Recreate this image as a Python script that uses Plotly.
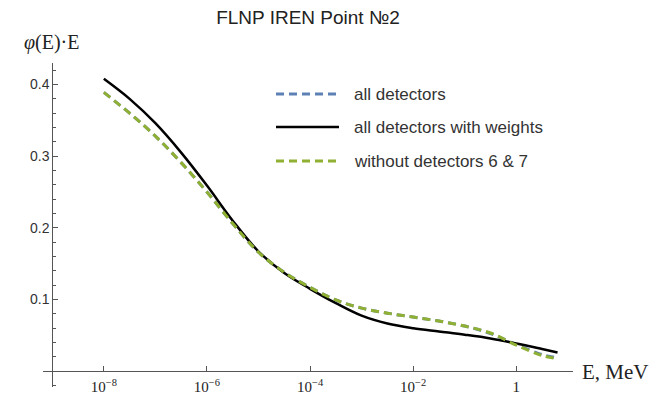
import plotly.graph_objects as go

# log10 of energy (MeV) and phi(E)*E for the three unfoldings
log_e = [-8, -7.5, -7, -6.5, -6, -5.5, -5, -4.5, -4, -3.5, -3, -2.5, -2, -1.5, -1, -0.5, 0, 0.5, 0.8]
all_det = [0.389, 0.360, 0.328, 0.291, 0.250, 0.206, 0.166, 0.138, 0.117, 0.0995,
           0.088, 0.081, 0.0756, 0.070, 0.063, 0.0525, 0.0372, 0.0232, 0.0186]
weights = [0.408, 0.380, 0.346, 0.305, 0.259, 0.210, 0.167, 0.137, 0.115, 0.095,
           0.0775, 0.0665, 0.060, 0.0555, 0.051, 0.0458, 0.0388, 0.031, 0.0262]
no_67 = [0.389, 0.360, 0.328, 0.291, 0.250, 0.206, 0.166, 0.138, 0.117, 0.0995,
         0.088, 0.081, 0.0756, 0.070, 0.063, 0.0533, 0.0365, 0.022, 0.0174]

energy = [10 ** v for v in log_e]

x_ticks = [1e-8, 1e-6, 1e-4, 1e-2, 1]
x_labels = ["10<sup>−8</sup>", "10<sup>−6</sup>", "10<sup>−4</sup>", "10<sup>−2</sup>", "1"]
y_ticks = [0.1, 0.2, 0.3, 0.4]

names = ["all detectors", "all detectors with weights", "without detectors 6 & 7"]
colors = ["#5e81b5", "black", "#8fb032"]

# the page body has an 8px margin, so the figure is drawn 8px in from the top-left
OFF = 8
W, H = 667 - OFF, 397 - OFF
L, R, T, B = 43, 573, 63, 387  # plot area in window pixels
X_RANGE = [-9.18, 1.1]
Y_RANGE = [-0.022, 0.43]
SERIF = "Liberation Serif, Times New Roman, serif"
SANS = "Liberation Sans, Arial, sans-serif"


def px(x):
    return (x - L) / (R - L)


def py(y):
    return (B - y) / (B - T)


fig = go.Figure()
fig.add_trace(go.Scatter(x=energy, y=all_det, mode="lines", line_shape="spline",
                         line=dict(color=colors[0], width=3, dash="8px,5px"), showlegend=False))
fig.add_trace(go.Scatter(x=energy, y=weights, mode="lines", line_shape="spline",
                         line=dict(color=colors[1], width=2.5), showlegend=False))
fig.add_trace(go.Scatter(x=energy, y=no_67, mode="lines", line_shape="spline",
                         line=dict(color=colors[2], width=3, dash="8px,5px"), showlegend=False))

# hand made legend
rows = [94, 127, 161]
for name, col, yy, dash in zip(names, colors, rows, ["8px,5px", "solid", "8px,5px"]):
    fig.add_shape(type="line", xref="paper", yref="paper", x0=px(276), x1=px(339), y0=py(yy), y1=py(yy),
                  line=dict(color=col, width=3 if dash != "solid" else 2.5, dash=dash))
    fig.add_annotation(text=name, xref="paper", yref="paper", x=px(352), y=py(yy), xanchor="left",
                       yanchor="middle", showarrow=False,
                       font=dict(family=SANS, size=17, color="#333"))

fig.add_annotation(text="<i>φ</i>(E)·E", xref="paper", yref="paper", x=px(22), y=py(43),
                   xanchor="left", yanchor="middle",
                   showarrow=False, font=dict(family=SERIF, size=20, color="#222"))
fig.add_annotation(text="E, MeV", xref="paper", yref="paper", x=px(580), y=py(372),
                   xanchor="left", yanchor="middle",
                   showarrow=False, font=dict(family=SERIF, size=21, color="#222"))

fig.update_layout(
    width=W, height=H,
    margin=dict(l=L - OFF, r=667 - R, t=T - OFF, b=397 - B, autoexpand=False),
    paper_bgcolor="white", plot_bgcolor="white",
    title=dict(text="FLNP IREN Point №2", xref="container", yref="container",
               x=(308 - OFF) / W, y=1 - (17 - OFF) / H,
               xanchor="center", yanchor="middle",
               font=dict(family=SANS, size=19, color="#222")),
    xaxis=dict(type="log", range=X_RANGE, anchor="free", automargin=False,
               position=(0 - Y_RANGE[0]) / (Y_RANGE[1] - Y_RANGE[0]),
               showline=True, linecolor="#555", linewidth=1, showgrid=False, zeroline=False,
               ticks="inside", ticklen=5, tickcolor="#555", tickvals=x_ticks, ticktext=x_labels,
               ticklabelstandoff=2,
               tickfont=dict(family=SERIF, size=15, color="#222")),
    yaxis=dict(range=Y_RANGE, anchor="free", automargin=False,
               position=(-9 - X_RANGE[0]) / (X_RANGE[1] - X_RANGE[0]),
               showline=True, linecolor="#555", linewidth=1, showgrid=False, zeroline=False,
               ticks="inside", ticklen=5, tickcolor="#555", tickvals=y_ticks, tickformat=".1f",
               minor=dict(ticks="inside", ticklen=3, tickcolor="#555", tick0=0, dtick=0.02, showgrid=False),
               tickfont=dict(family=SANS, size=14, color="#333")),
)

fig.write_html("out.html")
